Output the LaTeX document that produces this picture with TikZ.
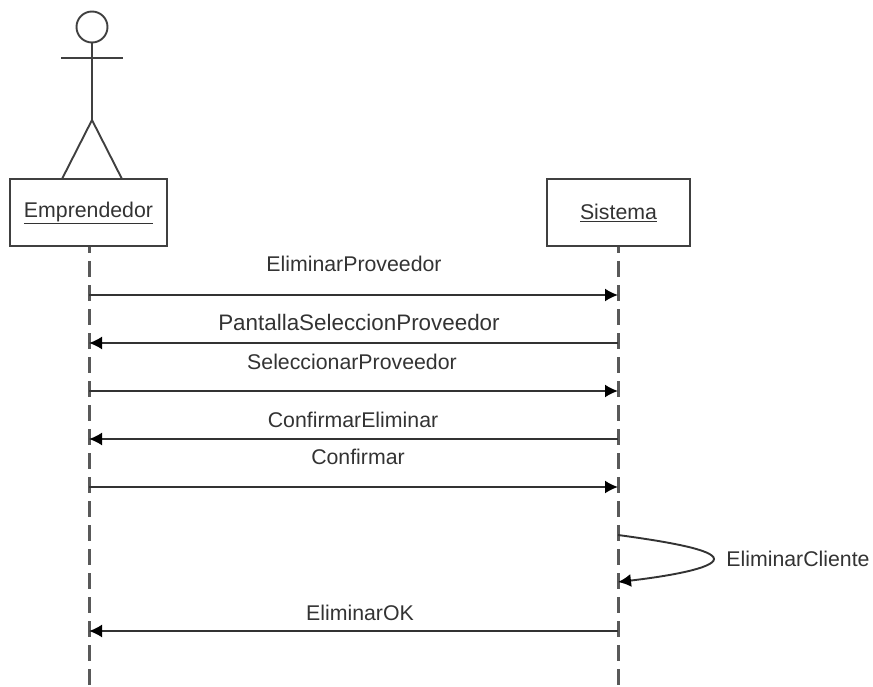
\documentclass[tikz,border=0pt]{standalone}
\usepackage{fontspec}
\setmainfont{Liberation Sans}
\usepackage{tikz}
\usetikzlibrary{calc,positioning,arrows.meta}

\begin{document}
\begin{tikzpicture}[x=1pt,y=-1pt,
  ink/.style={draw=black!75,line width=1.9pt},
  obj/.style={ink,rectangle,inner sep=0pt,text=black!80,font=\fontsize{21.3}{24}\selectfont},
  lifeline/.style={draw=black!65,line width=3pt,dash pattern=on 16pt off 8pt,dash phase=9pt},
  msg/.style={draw=black!80,line width=1.9pt,-{Latex[length=13pt,width=13pt,black]}},
  txt/.style={inner sep=0pt,text=black!80,font=\fontsize{21.3}{24}\selectfont}]
  \useasboundingbox (0,0) rectangle (873,687);

  % lifelines
  \coordinate (empTop) at (89,246);
  \coordinate (sisTop) at (618,246);
  \coordinate (empEnd) at (89,687);
  \coordinate (sisEnd) at (618,687);
  \draw[lifeline] (empTop) -- (empEnd);
  \draw[lifeline] (sisTop) -- (sisEnd);

  % actor
  \node[ink,circle,minimum size=31pt,inner sep=0pt] (head) at (92,27) {};
  \coordinate (hip) at (92,120);
  \coordinate (armL) at (61,58);
  \coordinate (armR) at (123,58);
  \coordinate (footL) at (62,179);
  \coordinate (footR) at (122,179);
  \draw[ink] (head.south) -- (hip);
  \draw[ink] (armL) -- (armR);
  \draw[ink] (footL) -- (hip) -- (footR);

  % objects
  \node[obj,minimum width=157pt,minimum height=67pt] (emp) at (88.5,212.5) {\underline{Emprendedor}};
  \node[obj,minimum width=143pt,minimum height=67pt] (sis) at (618.5,212.5) {\underline{Sistema}};

  % points on the lifelines
  \foreach \n/\y in {1/295,2/343,3/391,4/439,5/487,6/631} {
    \coordinate (e\n) at (89,\y);
    \coordinate (s\n) at (618,\y);
  }
  \coordinate (loopA) at (618,535);
  \coordinate (loopB) at (618,582);

  % messages
  \draw[msg] (e1) -- (s1);
  \draw[msg] (s2) -- (e2);
  \draw[msg] (e3) -- (s3);
  \draw[msg] (s4) -- (e4);
  \draw[msg] (e5) -- (s5);
  \draw[msg] (s6) -- (e6);
  \draw[msg] (loopA) .. controls (670,542) and (714,550) .. (714,559) .. controls (714,568) and (670,576) .. (loopB);

  % labels
  \node[txt] (l1) at (354,264) {EliminarProveedor};
  \node[txt] (l2) at (359,322) {\fontsize{22.4}{24}\selectfont PantallaSeleccionProveedor};
  \node[txt] (l3) at (352,362) {SeleccionarProveedor};
  \node[txt] (l4) at (353,420) {ConfirmarEliminar};
  \node[txt] (l5) at (358,457) {Confirmar};
  \node[txt] (l6) at (798,559) {EliminarCliente};
  \node[txt] (l7) at (360,613) {EliminarOK};
\end{tikzpicture}
\end{document}
